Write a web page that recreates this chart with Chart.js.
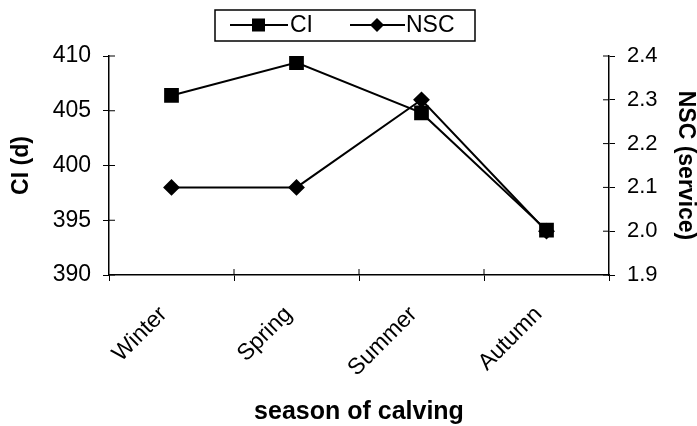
<!DOCTYPE html>
<html>
<head>
<meta charset="utf-8">
<script src="https://cdn.jsdelivr.net/npm/chart.js@4"></script>
<style>
  body { margin: 0; background: #fff; }
  #wrap { width: 697px; height: 426px; }
</style>
</head>
<body>
<div id="wrap"><canvas id="myChart" width="697" height="426"></canvas></div>
<script>
// data
const seasons = ["Winter", "Spring", "Summer", "Autumn"]
const ciValues = [406.4, 409.4, 404.8, 394.1]   // days
const nscValues = [2.1, 2.1, 2.3, 2.0]          // services
const ciTicks = [390, 395, 400, 405, 410]
const nscTicks = [1.9, 2.0, 2.1, 2.2, 2.3, 2.4]

const FONT = "'Liberation Sans', Arial, sans-serif"

// legend with a frame, drawn by hand (line + marker like the original)
const boxLegend = {
  id: "boxLegend",
  afterDraw(chart) {
    const ctx = chart.ctx
    ctx.save()
    ctx.strokeStyle = "#000"
    ctx.lineWidth = 1.5
    ctx.strokeRect(215, 10, 260, 31)
    ctx.font = "23px " + FONT
    ctx.textBaseline = "middle"
    ctx.fillStyle = "#000"
    const y = 25
    // CI
    ctx.lineWidth = 2
    ctx.beginPath(); ctx.moveTo(230, y); ctx.lineTo(288, y); ctx.stroke()
    ctx.fillRect(252, y - 6.5, 13, 13)
    ctx.fillText(chart.data.datasets[0].label, 290, y + 1)
    // NSC
    ctx.beginPath(); ctx.moveTo(350, y); ctx.lineTo(405, y); ctx.stroke()
    ctx.beginPath()
    ctx.moveTo(377, y - 7); ctx.lineTo(384, y); ctx.lineTo(377, y + 7); ctx.lineTo(370, y)
    ctx.closePath(); ctx.fill()
    ctx.fillText(chart.data.datasets[1].label, 406, y + 1)
    ctx.restore()
  }
}

// tick marks in the original cross the axis line, add the inner half
const innerTicks = {
  id: "innerTicks",
  afterDraw(chart) {
    const ctx = chart.ctx
    const a = chart.chartArea
    const s = chart.scales
    ctx.save()
    ctx.strokeStyle = "#000"
    ctx.lineWidth = 1
    ctx.beginPath()
    ciTicks.forEach(v => {
      const y = s.yCI.getPixelForValue(v)
      ctx.moveTo(a.left, y); ctx.lineTo(a.left + 6, y)
    })
    nscTicks.forEach(v => {
      const y = s.yNSC.getPixelForValue(v)
      ctx.moveTo(a.right, y); ctx.lineTo(a.right - 6, y)
    })
    const step = (a.right - a.left) / seasons.length
    for (let i = 1; i < seasons.length; i++) {
      const x = a.left + step * i
      ctx.moveTo(x, a.bottom); ctx.lineTo(x, a.bottom - 6)
    }
    ctx.stroke()
    ctx.restore()
  }
}

const chart = new Chart("myChart", {
  type: "line",
  data: {
    labels: seasons,
    datasets: [{
        label: "CI",
        data: ciValues,
        yAxisID: "yCI",
        borderColor: "#000",
        backgroundColor: "#000",
        borderWidth: 2,
        pointStyle: "rect",
        pointRadius: 9,
        tension: 0
      },{
        label: "NSC",
        data: nscValues,
        yAxisID: "yNSC",
        borderColor: "#000",
        backgroundColor: "#000",
        borderWidth: 2,
        pointStyle: "rectRot",
        pointRadius: 7,
        tension: 0
      }
    ]
  },
  options: {
    responsive: false,
    animation: false,
    layout: { padding: { top: 56, left: 0, right: 0, bottom: 0 } },
    plugins: {
      legend: { display: false },
      tooltip: { enabled: false }
    },
    scales: {
      x: {
        offset: true,
        grid: { offset: true, drawOnChartArea: false, color: "#000", tickLength: 6, tickColor: "#000" },
        border: { color: "#000", width: 1.5 },
        ticks: {
          color: "#000",
          font: { family: FONT, size: 23 },
          minRotation: 45, maxRotation: 45,
          padding: 20,
          labelOffset: -8
        },
        title: {
          display: true,
          text: "season of calving",
          color: "#000",
          font: { family: FONT, size: 25, weight: "bold", lineHeight: 1 },
          padding: { top: 0, bottom: 1 }
        },
        afterFit(scale) { scale.height = 151 }
      },
      yCI: {
        position: "left",
        min: 390, max: 410,
        afterBuildTicks(scale) { scale.ticks = ciTicks.map(v => ({ value: v })) },
        grid: { drawOnChartArea: false, tickLength: 6, tickColor: "#000" },
        border: { color: "#000", width: 1.5 },
        ticks: { color: "#000", font: { family: FONT, size: 23 }, padding: 12 },
        title: {
          display: true,
          text: "CI (d)",
          color: "#000",
          font: { family: FONT, size: 23, weight: "bold", lineHeight: 1 },
          padding: { top: 10, bottom: 0 }
        },
        afterFit(scale) { scale.width = 109 }
      },
      yNSC: {
        position: "right",
        min: 1.9, max: 2.4,
        afterBuildTicks(scale) { scale.ticks = nscTicks.map(v => ({ value: v })) },
        grid: { drawOnChartArea: false, tickLength: 6, tickColor: "#000" },
        border: { color: "#000", width: 1.5 },
        ticks: {
          color: "#000",
          font: { family: FONT, size: 22 },
          padding: 12,
          callback: v => Number(v).toFixed(1)
        },
        title: {
          display: true,
          text: "NSC (service)",
          color: "#000",
          font: { family: FONT, size: 23, weight: "bold", lineHeight: 1 },
          padding: { top: 0, bottom: 0 }
        },
        afterFit(scale) { scale.width = 88 }
      }
    }
  },
  plugins: [boxLegend, innerTicks]
})
</script>
</body>
</html>
